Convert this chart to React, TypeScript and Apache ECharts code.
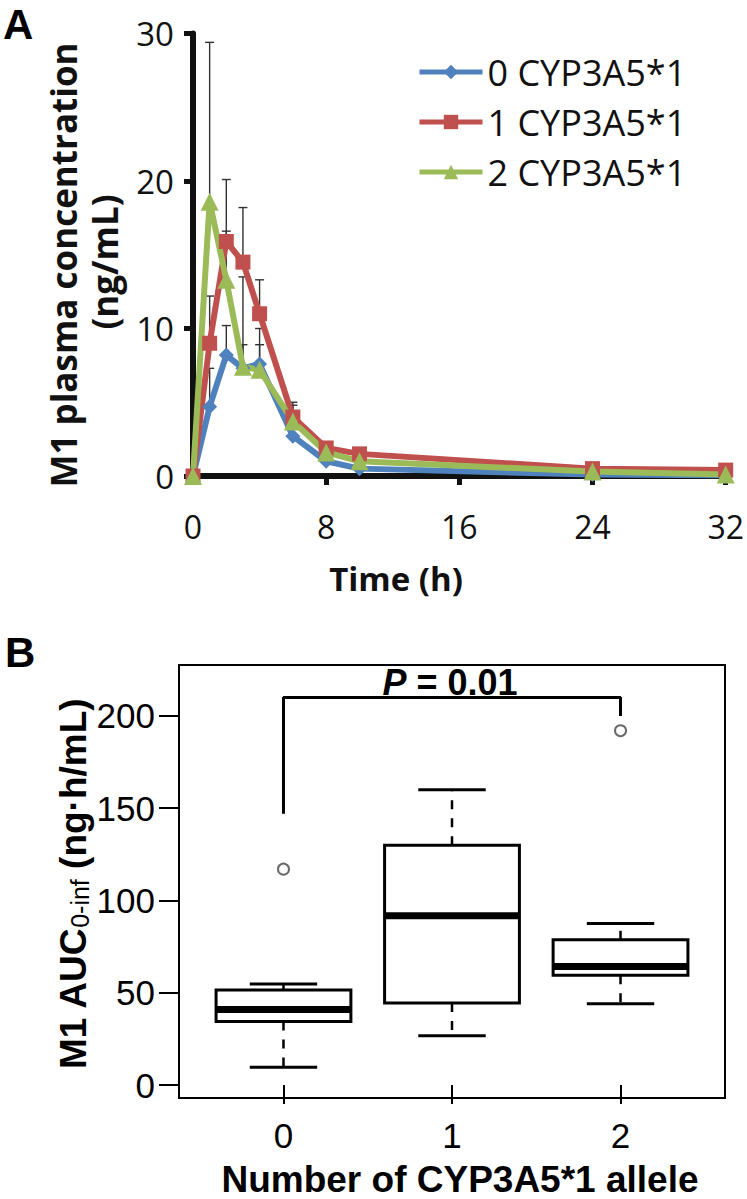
import React, { useEffect, useRef } from "react";
import * as echarts from "echarts";

// ---------- Panel A data ----------
const times = [0, 1, 2, 3, 4, 6, 8, 10, 24, 32];
const seriesNames = ["0 CYP3A5*1", "1 CYP3A5*1", "2 CYP3A5*1"];
const conc0 = [0, 4.7, 8.2, 7.3, 7.6, 2.7, 1.0, 0.5, 0.1, 0.05];
const conc1 = [0, 9.0, 15.9, 14.5, 11.0, 4.0, 1.9, 1.5, 0.5, 0.4];
const conc2 = [0, 18.6, 13.3, 7.4, 7.2, 3.7, 1.6, 1.0, 0.3, 0.1];
const upper0 = [0, 7.3, 10.2, 8.9, 8.9, 3.3, 1.3, 0.7, 0.15, 0.1];
const upper1 = [0, 12.2, 20.1, 18.2, 13.3, 5.0, 2.2, 1.8, 0.7, 0.5];
const upper2 = [0, 29.4, 16.6, 13.5, 10.0, 4.8, 2.0, 1.2, 0.4, 0.2];
const xTicksA = [0, 8, 16, 24, 32];
const yTicksA = [0, 10, 20, 30];

// ---------- Panel B data ----------
const groupLabels = ["0", "1", "2"];
const boxLow = [9.6, 26.7, 44];
const boxQ1 = [34.5, 44.5, 59.5];
const boxMed = [40.9, 91.8, 64.2];
const boxQ3 = [51.5, 130, 78.7];
const boxHigh = [54.7, 160, 87.5];
const outlierGroup = [1, 3];
const outlierValue = [117, 192];
const bracketX = [1, 1, 3, 3];
const bracketY = [147, 210, 210, 200];
const yTicksB = [0, 50, 100, 150, 200];

const COLORS = ["#4F81BD", "#C0504D", "#9BBB59"];
const FONT_A = "'Open Sans', 'Noto Sans', sans-serif";
const FONT_B = "'Liberation Sans', Arial, sans-serif";

function errRender(params: any, api: any) {
  const x = api.value(0);
  const v = api.value(1);
  const u = api.value(2);
  if (!(u > v)) return null;
  const p0 = api.coord([x, v]);
  const p1 = api.coord([x, u]);
  const st = { stroke: "#333", lineWidth: 1.4 };
  return {
    type: "group",
    children: [
      { type: "line", shape: { x1: p0[0], y1: p0[1], x2: p1[0], y2: p1[1] }, style: st },
      { type: "line", shape: { x1: p1[0] - 4.5, y1: p1[1], x2: p1[0] + 4.5, y2: p1[1] }, style: st },
    ],
  };
}

function boxRender(params: any, api: any) {
  const x = api.value(0);
  const pLow = api.coord([x, api.value(1)]);
  const pQ1 = api.coord([x, api.value(2)]);
  const pMed = api.coord([x, api.value(3)]);
  const pQ3 = api.coord([x, api.value(4)]);
  const pHigh = api.coord([x, api.value(5)]);
  const hb = api.size([0.4, 0])[0];
  const hc = api.size([0.2, 0])[0];
  const cx = pQ1[0];
  const solid = { stroke: "#000", lineWidth: 3 };
  const dashed = { stroke: "#000", lineWidth: 2.5, lineDash: [9, 9] };
  return {
    type: "group",
    children: [
      { type: "line", shape: { x1: cx, y1: pQ3[1], x2: cx, y2: pHigh[1] }, style: dashed },
      { type: "line", shape: { x1: cx, y1: pQ1[1], x2: cx, y2: pLow[1] }, style: dashed },
      { type: "line", shape: { x1: cx - hc, y1: pHigh[1], x2: cx + hc, y2: pHigh[1] }, style: solid },
      { type: "line", shape: { x1: cx - hc, y1: pLow[1], x2: cx + hc, y2: pLow[1] }, style: solid },
      {
        type: "rect",
        shape: { x: cx - hb, y: pQ3[1], width: hb * 2, height: pQ1[1] - pQ3[1] },
        style: { fill: "#fff", stroke: "#000", lineWidth: 3 },
      },
      { type: "line", shape: { x1: cx - hb, y1: pMed[1], x2: cx + hb, y2: pMed[1] }, style: { stroke: "#000", lineWidth: 7 } },
    ],
  };
}

export default function App() {
  const ref = useRef<HTMLDivElement>(null);
  useEffect(() => {
    document.body.style.margin = "0";
    const chart = echarts.init(ref.current!, null, { renderer: "svg" });
    const concs = [conc0, conc1, conc2];
    const uppers = [upper0, upper1, upper2];
    const symbols = ["diamond", "rect", "triangle"];
    const symSizes = [15, 15, 18];

    const lineSeries = concs.map((c, k) => ({
      type: "line",
      name: seriesNames[k],
      xAxisIndex: 0,
      yAxisIndex: 0,
      data: times.map((t, i) => [t, c[i]]),
      symbol: symbols[k],
      symbolSize: symSizes[k],
      showSymbol: true,
      lineStyle: { width: 6, color: COLORS[k] },
      itemStyle: { color: COLORS[k] },
      z: 3,
      silent: true,
    }));
    const errSeries = concs.map((c, k) => ({
      type: "custom",
      xAxisIndex: 0,
      yAxisIndex: 0,
      data: times.map((t, i) => [t, c[i], uppers[k][i]]),
      encode: { x: 0, y: [1, 2] },
      renderItem: errRender,
      z: 1,
      silent: true,
    }));

    const option: any = {
      animation: false,
      backgroundColor: "#fff",
      legend: {
        data: seriesNames,
        orient: "vertical",
        left: 417,
        top: 54,
        padding: 0,
        itemWidth: 63,
        itemHeight: 18,
        itemGap: 14,
        lineStyle: { width: 5 },
        textStyle: { fontSize: 36, fontFamily: FONT_A, color: "#111", lineHeight: 36 },
      },
      grid: [
        { left: 193, top: 33.5, width: 533, height: 442.5 },
        {
          left: 179,
          top: 665,
          width: 546,
          height: 433,
          show: true,
          borderColor: "#000",
          borderWidth: 2,
          backgroundColor: "rgba(0,0,0,0)",
        },
      ],
      xAxis: [
        {
          gridIndex: 0,
          type: "value",
          min: 0,
          max: 32,
          interval: 8,
          axisLine: { show: true, onZero: false, lineStyle: { color: "#111", width: 6 } },
          axisTick: { show: true, length: 9, customValues: xTicksA, lineStyle: { color: "#111", width: 5 } },
          axisLabel: { customValues: xTicksA, fontSize: 32, color: "#111", fontFamily: FONT_A, margin: 34 },
          splitLine: { show: false },
        },
        {
          gridIndex: 1,
          type: "value",
          min: 0.38,
          max: 3.62,
          axisLine: { show: false },
          axisTick: { show: true, customValues: [1, 2, 3], length: 19, lineStyle: { color: "#000", width: 2 } },
          axisLabel: {
            customValues: [1, 2, 3],
            formatter: (v: number) => groupLabels[Math.round(v) - 1],
            fontSize: 35,
            color: "#000",
            fontFamily: FONT_B,
            margin: 20,
          },
          splitLine: { show: false },
        },
      ],
      yAxis: [
        {
          gridIndex: 0,
          type: "value",
          min: 0,
          max: 30,
          interval: 10,
          axisLine: { show: true, onZero: false, lineStyle: { color: "#111", width: 6 } },
          axisTick: { show: true, length: 9, customValues: yTicksA, lineStyle: { color: "#111", width: 5 } },
          axisLabel: { customValues: yTicksA, fontSize: 33, color: "#111", fontFamily: FONT_A, margin: 19 },
          splitLine: { show: false },
        },
        {
          gridIndex: 1,
          type: "value",
          min: -7,
          max: 227.6,
          axisLine: { show: false },
          axisTick: { show: true, customValues: yTicksB, length: 20, lineStyle: { color: "#000", width: 2 } },
          axisLabel: { customValues: yTicksB, fontSize: 35, color: "#000", fontFamily: FONT_B, margin: 24 },
          splitLine: { show: false },
        },
      ],
      series: [
        ...errSeries,
        ...lineSeries,
        {
          type: "custom",
          xAxisIndex: 1,
          yAxisIndex: 1,
          data: groupLabels.map((g, i) => [i + 1, boxLow[i], boxQ1[i], boxMed[i], boxQ3[i], boxHigh[i]]),
          encode: { x: 0, y: [1, 2, 3, 4, 5] },
          renderItem: boxRender,
          silent: true,
        },
        {
          type: "scatter",
          xAxisIndex: 1,
          yAxisIndex: 1,
          data: outlierGroup.map((g, i) => [g, outlierValue[i]]),
          symbol: "emptyCircle",
          symbolSize: 11,
          itemStyle: { color: "#444", borderWidth: 2 },
          z: 5,
          silent: true,
        },
        {
          type: "line",
          xAxisIndex: 1,
          yAxisIndex: 1,
          data: bracketX.map((x, i) => [x, bracketY[i]]),
          symbol: "none",
          lineStyle: { color: "#000", width: 3 },
          silent: true,
        },
      ],
      graphic: [
        {
          type: "text",
          x: 3,
          y: 24,
          style: { text: "A", font: `bold 42px ${FONT_B}`, fill: "#000", verticalAlign: "middle", align: "left" },
        },
        {
          type: "text",
          x: 5,
          y: 652,
          style: { text: "B", font: `bold 42px ${FONT_B}`, fill: "#000", verticalAlign: "middle", align: "left" },
        },
        {
          type: "text",
          x: 63,
          y: 265,
          rotation: Math.PI / 2,
          style: {
            text: "M1 plasma concentration",
            font: `bold 35px ${FONT_A}`,
            fill: "#111",
            align: "center",
            verticalAlign: "middle",
          },
        },
        {
          type: "text",
          x: 104,
          y: 262,
          rotation: Math.PI / 2,
          style: { text: "(ng/mL)", font: `bold 35px ${FONT_A}`, fill: "#111", align: "center", verticalAlign: "middle" },
        },
        {
          type: "text",
          x: 396,
          y: 578,
          style: { text: "Time (h)", font: `bold 33px ${FONT_A}`, fill: "#111", align: "center", verticalAlign: "middle" },
        },
        {
          type: "text",
          x: 450,
          y: 682,
          style: {
            text: "{i|P}{b| = 0.01}",
            align: "center",
            verticalAlign: "middle",
            rich: {
              i: { fontSize: 36, fontWeight: "bold", fontStyle: "italic", fontFamily: FONT_B, fill: "#000" },
              b: { fontSize: 36, fontWeight: "bold", fontFamily: FONT_B, fill: "#000" },
            },
          },
        },
        {
          type: "text",
          x: 70,
          y: 884,
          rotation: Math.PI / 2,
          style: {
            text: "{b|M1 AUC}{s|0-inf}{b| (ng·h/mL)}",
            align: "center",
            verticalAlign: "middle",
            rich: {
              b: { fontSize: 37, fontWeight: "bold", fontFamily: FONT_B, fill: "#000", lineHeight: 44, verticalAlign: "bottom" },
              s: { fontSize: 25, fontFamily: FONT_B, fill: "#000", lineHeight: 44, verticalAlign: "bottom" },
            },
          },
        },
        {
          type: "text",
          x: 460,
          y: 1179,
          style: {
            text: "Number of CYP3A5*1 allele",
            font: `bold 37px ${FONT_B}`,
            fill: "#000",
            align: "center",
            verticalAlign: "middle",
          },
        },
      ],
    };
    chart.setOption(option);
    return () => chart.dispose();
  }, []);
  return <div ref={ref} style={{ width: 747, height: 1199 }} />;
}
